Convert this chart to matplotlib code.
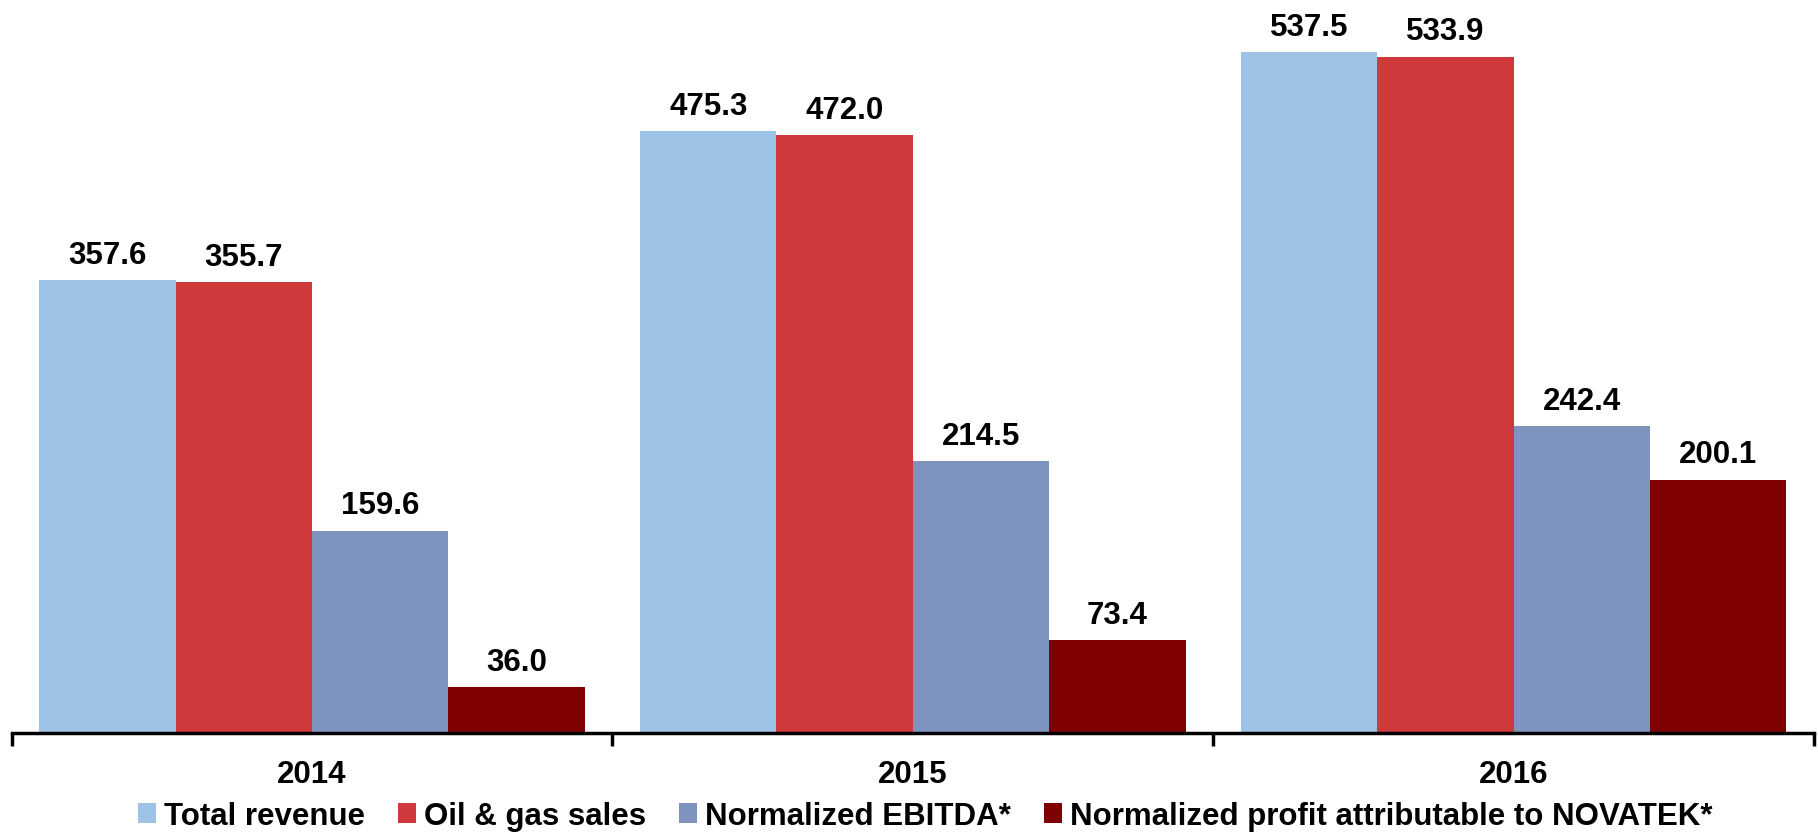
import matplotlib.pyplot as plt
import numpy as np

years = ['2014', '2015', '2016']
series_names = ['Total revenue', 'Oil & gas sales', 'Normalized EBITDA*',
                'Normalized profit attributable to NOVATEK*']
total_revenue = [357.6, 475.3, 537.5]
oil_gas_sales = [355.7, 472.0, 533.9]
norm_ebitda = [159.6, 214.5, 242.4]
norm_profit = [36.0, 73.4, 200.1]
colors = ['#9DC3E6', '#CF393B', '#7F93BF', '#7F0000']

FONT = ['Liberation Sans', 'DejaVu Sans']
plt.rcParams['font.family'] = FONT

fig = plt.figure(figsize=(18.18, 8.37), dpi=100)
ax = fig.add_axes([0.0064, 0.123, 0.9914, 0.877])

x = np.arange(len(years))
width = 0.227
series = [total_revenue, oil_gas_sales, norm_ebitda, norm_profit]
for i, (vals, name, c) in enumerate(zip(series, series_names, colors)):
    pos = x + (i - 1.5) * width
    ax.bar(pos, vals, width=width, color=c, label=name, edgecolor='none')
    for p, v in zip(pos, vals):
        ax.annotate(f'{v:.1f}', (p, v), xytext=(0, 7.5), textcoords='offset points',
                    ha='center', va='bottom', fontsize=22.5, fontweight='bold')

ax.set_xlim(-0.5, 2.5)
ax.set_ylim(0, 579.5)
for s in ['top', 'right', 'left']:
    ax.spines[s].set_visible(False)
ax.spines['bottom'].set_linewidth(2.5)
ax.set_yticks([])

ax.set_xticks([-0.5, 0.5, 1.5, 2.5])
ax.set_xticklabels([])
ax.tick_params(axis='x', direction='out', length=9, width=2.5)
ax.set_xticks(x, minor=True)
ax.set_xticklabels(years, minor=True, fontsize=22.5, fontweight='bold')
ax.tick_params(axis='x', which='minor', length=0, pad=19)

leg = ax.legend(loc='center', bbox_to_anchor=(0.507, -0.113), ncol=4, frameon=False,
                prop={'size': 22.5, 'weight': 'bold', 'family': FONT},
                handlelength=0.58, handleheight=0.58, handletextpad=0.26,
                columnspacing=1.05, borderaxespad=0)

fig.savefig('out.png', dpi=100)
